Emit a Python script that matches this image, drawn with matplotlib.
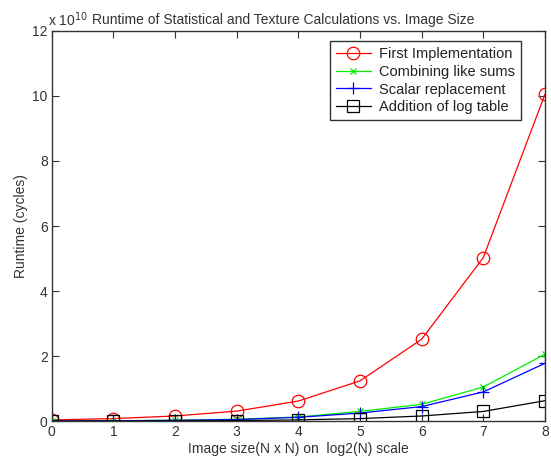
import matplotlib
matplotlib.use("Agg")
import matplotlib.pyplot as plt

plt.rcParams['font.family'] = ['Liberation Sans', 'DejaVu Sans']

# Data (runtime in units of 1e10 cycles)
x_vals = [0, 1, 2, 3, 4, 5, 6, 7, 8]
first_impl = [0.04, 0.08, 0.16, 0.31, 0.62, 1.24, 2.52, 5.03, 10.05]
combining = [0.008, 0.015, 0.03, 0.06, 0.13, 0.30, 0.52, 1.05, 2.06]
scalar = [0.007, 0.013, 0.027, 0.05, 0.12, 0.25, 0.45, 0.90, 1.78]
logtable = [0.003, 0.005, 0.01, 0.02, 0.04, 0.08, 0.16, 0.30, 0.63]
labels = ["First Implementation", "Combining like sums", "Scalar replacement", "Addition of log table"]

fig = plt.figure(figsize=(5.51, 4.68), dpi=100)
ax = fig.add_axes([0.094, 0.100, 0.895, 0.834])

ax.plot(x_vals, first_impl, color='red', marker='o', mfc='none', ms=9, lw=0.9, mew=0.9, label=labels[0])
ax.plot(x_vals, combining, color='#00ee00', marker='x', ms=5, lw=0.9, mew=0.9, label=labels[1])
ax.plot(x_vals, scalar, color='blue', marker='+', ms=9, lw=0.9, mew=0.9, label=labels[2])
ax.plot(x_vals, logtable, color='black', marker='s', mfc='none', ms=8, lw=0.9, mew=0.9, label=labels[3])

ax.set_xlim(0, 8)
ax.set_ylim(0, 12)
ax.set_xticks(range(0, 9))
ax.set_yticks(range(0, 13, 2))
ax.tick_params(direction='in', top=True, right=True, length=5, labelsize=10, colors='#333333', pad=3)
for s in ax.spines.values():
    s.set_color('#333333')
    s.set_linewidth(1.0)

ax.set_xlabel("Image size(N x N) on  log2(N) scale", fontsize=10, color='#333333', labelpad=2)
ax.set_ylabel("Runtime (cycles)", fontsize=10, color='#333333', labelpad=3)
ax.text(0.47, 1.01, "Runtime of Statistical and Texture Calculations vs. Image Size",
        transform=ax.transAxes, ha='center', va='bottom', fontsize=10, color='#333333')
ax.text(-0.008, 1.005, r"x 10$^{10}$", transform=ax.transAxes, ha='left', va='bottom',
        fontsize=10, color='#333333')

leg = ax.legend(loc='upper right', bbox_to_anchor=(0.952, 0.973), fontsize=10.5, fancybox=False,
                framealpha=1, edgecolor='#333333', handlelength=2.4, borderpad=0.4,
                labelspacing=0.25, handletextpad=0.6, borderaxespad=0)
leg.get_frame().set_linewidth(1.0)
for t in leg.get_texts():
    t.set_color('#222222')

fig.savefig("out.png", dpi=100)
